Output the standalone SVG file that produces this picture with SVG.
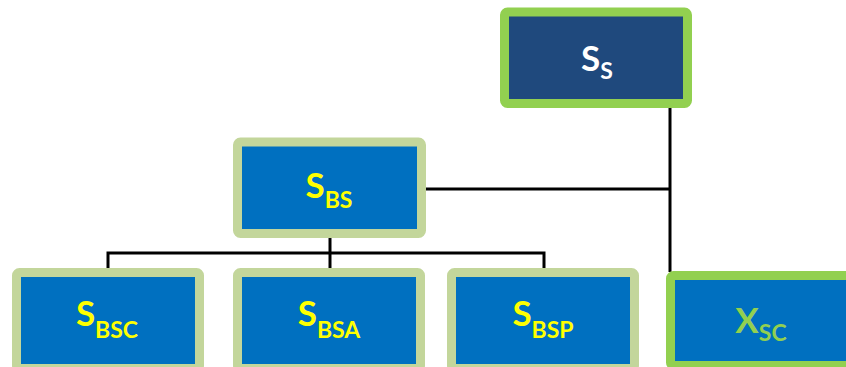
<svg xmlns="http://www.w3.org/2000/svg" width="846" height="367" viewBox="0 0 846 367">
<style>
.box{stroke-width:9}
.top{fill:#1F497D;stroke:#92D050}
.mid{fill:#0070C0;stroke:#C3D69B}
.xsc{fill:#0070C0;stroke:#92D050}
.lbl{font-family:Lato,"Liberation Sans",Arial,sans-serif;font-weight:bold;text-anchor:middle}
.big{font-size:35px}
.sub{font-size:23px}
.w{fill:#FFFFFF}
.y{fill:#FFFF00}
.g{fill:#92D050}
.conn{stroke:#000;stroke-width:3;fill:none}
</style>
<rect width="846" height="367" fill="#FFFFFF"/>
<g id="connectors">
<path class="conn" d="M670,108 V272"/>
<path class="conn" d="M426,189 H670"/>
<path class="conn" d="M330,238 V253"/>
<path class="conn" d="M108,268 V253 H544 V268"/>
<path class="conn" d="M330,253 V268"/>
</g>
<g id="SS">
<rect class="box top" x="504.5" y="12" width="183" height="91.5" rx="3"/>
<text class="lbl w" x="597" y="71"><tspan class="big">S</tspan><tspan class="sub" dy="8">S</tspan></text>
</g>
<g id="SBS">
<rect class="box mid" x="237.5" y="142" width="184" height="91.5" rx="3"/>
<text class="lbl y" x="329" y="198"><tspan class="big">S</tspan><tspan class="sub" dy="10">BS</tspan></text>
</g>
<g id="SBSC">
<rect class="box mid" x="16.5" y="272.5" width="183" height="96" rx="3"/>
<text class="lbl y" x="107" y="326"><tspan class="big">S</tspan><tspan class="sub" dy="12">BSC</tspan></text>
</g>
<g id="SBSA">
<rect class="box mid" x="237.5" y="272.5" width="183" height="96" rx="3"/>
<text class="lbl y" x="329" y="326"><tspan class="big">S</tspan><tspan class="sub" dy="12">BSA</tspan></text>
</g>
<g id="SBSP">
<rect class="box mid" x="451.5" y="272.5" width="183" height="96" rx="3"/>
<text class="lbl y" x="543" y="326"><tspan class="big">S</tspan><tspan class="sub" dy="12">BSP</tspan></text>
</g>
<g id="XSC">
<rect class="box xsc" x="670.5" y="275.5" width="190" height="90" rx="3"/>
<text class="lbl g" x="761" y="333"><tspan class="big">X</tspan><tspan class="sub" dy="8">SC</tspan></text>
</g>
</svg>
